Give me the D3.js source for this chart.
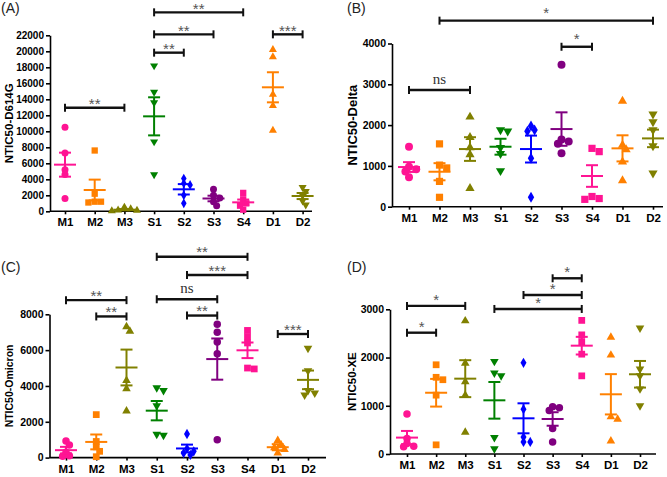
<!DOCTYPE html>
<html><head><meta charset="utf-8">
<script src="https://cdn.jsdelivr.net/npm/d3@7"></script>
<style>body{margin:0;background:#fff} svg{display:block}</style>
</head><body>
<svg id="chart" width="667" height="477"></svg>
<script>
// ---------------- data ----------------
const categories = ["M1","M2","M3","S1","S2","S3","S4","D1","D2"];

const d614gValues = [
  [10500, 7300, 5200, 4600, 1600],
  [7600, 2200, 1200, 1100, 1200],
  [500, 300, 150, 100, 50],
  [18200, 14900, 13600, 8700, 4600],
  [4100, 3500, 3300, 2000, 1000],
  [2750, 2000, 1650, 1200, 700],
  [2300, 1500, 1000, 700, 200],
  [20200, 19300, 14600, 13200, 10100],
  [3000, 2500, 2000, 1300, 800]
];
const d614gMean = [5830, 2660, 200, 11870, 2750, 1600, 1120, 15500, 1910];
const d614gSem  = [1500, 1300, 80, 2380, 650, 350, 350, 1880, 380];
const d614gTicks = [0,2000,4000,6000,8000,10000,12000,14000,16000,18000,20000,22000];
const d614gBrackets = [
  {a:"M1", b:"M3", y:12950, label:"**"},
  {a:"S1", b:"S2", y:19830, label:"**"},
  {a:"S1", b:"S3", y:22120, label:"**"},
  {a:"S1", b:"S4", y:24870, label:"**"},
  {a:"D1", b:"D2", y:22120, label:"***"}
];

const deltaValues = [
  [1470, 980, 920, 860, 720],
  [1540, 1020, 950, 620, 230],
  [2200, 1700, 1450, 1280, 450],
  [1880, 1850, 1450, 1300, 880],
  [1980, 1880, 1850, 1190, 230],
  [3480, 1650, 1600, 1540, 1310],
  [1430, 1350, 250, 200, 180],
  [2590, 1510, 1400, 1100, 640],
  [2270, 2080, 1880, 1490, 820]
];
const deltaMean = [972, 857, 1413, 1470, 1413, 1903, 752, 1430, 1674];
const deltaSem  = [120, 210, 290, 195, 330, 410, 265, 320, 215];
const deltaTicks = [0,1000,2000,3000,4000];
const deltaBrackets = [
  {a:"M1", b:"M3", y:2860, label:"ns"},
  {a:"S3", b:"S4", y:3920, label:"*"},
  {a:"M2", b:"D2", y:4560, label:"*"}
];

const omicronValues = [
  [920, 700, 300, 100, 80],
  [2400, 900, 600, 350, 50],
  [7300, 7050, 4300, 3850, 2600],
  [3900, 3750, 2900, 1300, 1250],
  [1320, 500, 350, 250, 150],
  [7450, 7000, 6450, 5800, 1000],
  [7100, 6750, 6400, 5000, 4950],
  [950, 700, 550, 450, 250],
  [6100, 4850, 3750, 3600, 3500]
];
const omicronMean = [415, 875, 5030, 2620, 510, 5500, 5990, 580, 4340];
const omicronSem  = [185, 415, 1000, 540, 215, 1150, 435, 170, 520];
const omicronTicks = [0,2000,4000,6000,8000];
const omicronBrackets = [
  {a:"M1", b:"M3", y:8790, label:"**"},
  {a:"M2", b:"M3", y:7880, label:"**"},
  {a:"S1", b:"S3", y:8840, label:"ns"},
  {a:"S2", b:"S3", y:7930, label:"**"},
  {a:"S2", b:"S4", y:10190, label:"***"},
  {a:"S1", b:"S4", y:11210, label:"**"},
  {a:"D1", b:"D2", y:6900, label:"***"}
];

const xeValues = [
  [830, 320, 220, 160, 150],
  [1850, 1590, 1540, 1220, 190],
  [2760, 1880, 1500, 1220, 450],
  [1920, 1680, 1620, 340, 110],
  [1890, 930, 350, 250, 250],
  [980, 960, 900, 530, 250],
  [2770, 2470, 2330, 2070, 1620],
  [2420, 2050, 770, 720, 270],
  [2610, 1760, 1620, 1350, 1000]
];
const xeMean = [340, 1270, 1562, 1113, 740, 726, 2246, 1238, 1653];
const xeSem  = [138, 287, 383, 380, 311, 140, 183, 418, 276];
const xeTicks = [0,1000,2000,3000];
const xeBrackets = [
  {a:"M1", b:"M3", y:3070, label:"*"},
  {a:"M1", b:"M2", y:2515, label:"*"},
  {a:"S1", b:"S4", y:3007, label:"*"},
  {a:"S2", b:"S4", y:3297, label:"*"},
  {a:"S3", b:"S4", y:3643, label:"*"}
];

// ---------------- styling ----------------
const colors = ["#ff1493","#ff8000","#808000","#008000","#0000ff","#800080","#ff1493","#ff8000","#808000"];
const shapes = ["circle","square","triUp","triDown","diamond","circle","square","triUp","triDown"];
const FONT = "'Liberation Sans', Arial, sans-serif";

const panels = [
  {label:"(A)", lx:1, ly:13, title:"NTIC50-D614G", tx:9, ts:11.5,
   values:d614gValues, means:d614gMean, sems:d614gSem, ticks:d614gTicks, brackets:d614gBrackets,
   yMax:22000, axisX:50, axisEnd:312, y0:211.3, yTop:35.3, xr:[65,302.6], ms:7, gap:6.5, tf:10},
  {label:"(B)", lx:347, ly:13, title:"NTIC50-Delta", tx:352, ts:13,
   values:deltaValues, means:deltaMean, sems:deltaSem, ticks:deltaTicks, brackets:deltaBrackets,
   yMax:4000, axisX:392, axisEnd:663, y0:206.7, yTop:43.5, xr:[409,653], ms:8, gap:10.5, tf:10.5},
  {label:"(C)", lx:1, ly:272, title:"NTIC50-Omicron", tx:9, ts:10.5,
   values:omicronValues, means:omicronMean, sems:omicronSem, ticks:omicronTicks, brackets:omicronBrackets,
   yMax:8000, axisX:49.5, axisEnd:326, y0:457.6, yTop:314.3, xr:[66,308], ms:7.5, gap:7.5, tf:10.5},
  {label:"(D)", lx:347, ly:272, title:"NTIC50-XE", tx:352, ts:11.5,
   values:xeValues, means:xeMean, sems:xeSem, ticks:xeTicks, brackets:xeBrackets,
   yMax:3000, axisX:390, axisEnd:656, y0:454, yTop:309.3, xr:[407,640], ms:7.5, gap:9, tf:10.5}
];

const svg = d3.select("#chart");

function symbolPath(shape, s) {
  if (shape === "circle") return d3.symbol(d3.symbolCircle, Math.PI * (s/2) * (s/2))();
  if (shape === "square") return d3.symbol(d3.symbolSquare, (s*0.9) * (s*0.9))();
  if (shape === "diamond") return d3.symbol(d3.symbolDiamond, s*s*0.55)();
  const a = s * 1.15;
  return d3.symbol(d3.symbolTriangle, Math.sqrt(3)/4 * a * a)();
}

panels.forEach(p => {
  const g = svg.append("g");
  const x = d3.scalePoint().domain(categories).range(p.xr);
  const y = d3.scaleLinear().domain([0, p.yMax]).range([p.y0, p.yTop]);

  g.append("text").attr("x", p.lx).attr("y", p.ly)
    .attr("font-family", FONT).attr("font-size", 14).attr("fill", "#222").text(p.label);

  const ya = g.append("g").attr("transform", `translate(${p.axisX},0)`)
    .call(d3.axisLeft(y).tickValues(p.ticks).tickFormat(d3.format("d")).tickSize(4).tickSizeOuter(0).tickPadding(2));
  ya.selectAll("text").attr("font-family", FONT).attr("font-weight", "bold").attr("font-size", p.tf).attr("fill", "#000");
  ya.selectAll("line,path").attr("stroke", "#000").attr("stroke-width", 1.6);

  const xa = g.append("g").attr("transform", `translate(0,${p.y0})`)
    .call(d3.axisBottom(x).tickSize(3).tickPadding(4));
  xa.select(".domain").remove();
  xa.selectAll("text").attr("font-family", FONT).attr("font-weight", "bold").attr("font-size", 11.5).attr("fill", "#000");
  xa.selectAll("line").attr("stroke", "#000").attr("stroke-width", 1.6);
  g.append("line").attr("x1", p.axisX).attr("x2", p.axisEnd).attr("y1", p.y0).attr("y2", p.y0)
    .attr("stroke", "#000").attr("stroke-width", 1.6);

  g.append("text")
    .attr("transform", `translate(${p.tx},${(p.y0 + p.yTop)/2}) rotate(-90)`)
    .attr("text-anchor", "middle").attr("dominant-baseline", "central")
    .attr("font-family", FONT).attr("font-weight", "bold").attr("font-size", p.ts).attr("fill", "#000")
    .text(p.title);

  categories.forEach((c, i) => {
    const cx = x(c);
    const col = colors[i];
    const pts = p.values[i].map(v => ({v, py: y(v)})).sort((a, b) => a.py - b.py);
    const placed = [];
    const step = p.ms * 0.45, minD = p.ms * 0.62;
    pts.forEach(pt => {
      for (const k of [0, 1, -1, 2, -2, 3, -3, 4, -4]) {
        const ox = k * step;
        if (placed.every(q => Math.hypot(q.ox - ox, q.py - pt.py) >= minD)) { pt.ox = ox; break; }
      }
      if (pt.ox === undefined) pt.ox = 0;
      placed.push(pt);
    });
    const rot = shapes[i] === "triDown" ? " rotate(180)" : "";
    g.selectAll(null).data(pts).enter().append("path")
      .attr("d", symbolPath(shapes[i], p.ms))
      .attr("transform", d => `translate(${cx + d.ox},${d.py})${rot}`)
      .attr("fill", col);

    const m = p.means[i], s = p.sems[i];
    const lw = 2;
    g.append("line").attr("x1", cx - 11).attr("x2", cx + 11).attr("y1", y(m)).attr("y2", y(m))
      .attr("stroke", col).attr("stroke-width", lw);
    g.append("line").attr("x1", cx).attr("x2", cx).attr("y1", y(m - s)).attr("y2", y(m + s))
      .attr("stroke", col).attr("stroke-width", lw);
    [m - s, m + s].forEach(v => {
      g.append("line").attr("x1", cx - 6).attr("x2", cx + 6).attr("y1", y(v)).attr("y2", y(v))
        .attr("stroke", col).attr("stroke-width", lw);
    });
  });

  p.brackets.forEach(b => {
    const x1 = x(b.a), x2 = x(b.b), by = y(b.y);
    g.append("line").attr("x1", x1).attr("x2", x2).attr("y1", by).attr("y2", by)
      .attr("stroke", "#111").attr("stroke-width", 2.4);
    [x1, x2].forEach(xx => g.append("line").attr("x1", xx).attr("x2", xx).attr("y1", by - 4).attr("y2", by + 4)
      .attr("stroke", "#111").attr("stroke-width", 2));
    if (b.label === "ns") {
      g.append("text").attr("x", (x1 + x2)/2).attr("y", by - 6).attr("text-anchor", "middle")
        .attr("font-family", "'Liberation Serif', 'Times New Roman', serif").attr("font-size", 15)
        .attr("fill", "#333").text(b.label);
    } else {
      g.append("text").attr("x", (x1 + x2)/2).attr("y", by - p.gap + 8).attr("text-anchor", "middle")
        .attr("font-family", FONT).attr("font-size", 15).attr("fill", "#555").text(b.label);
    }
  });
});
</script>
</body></html>
